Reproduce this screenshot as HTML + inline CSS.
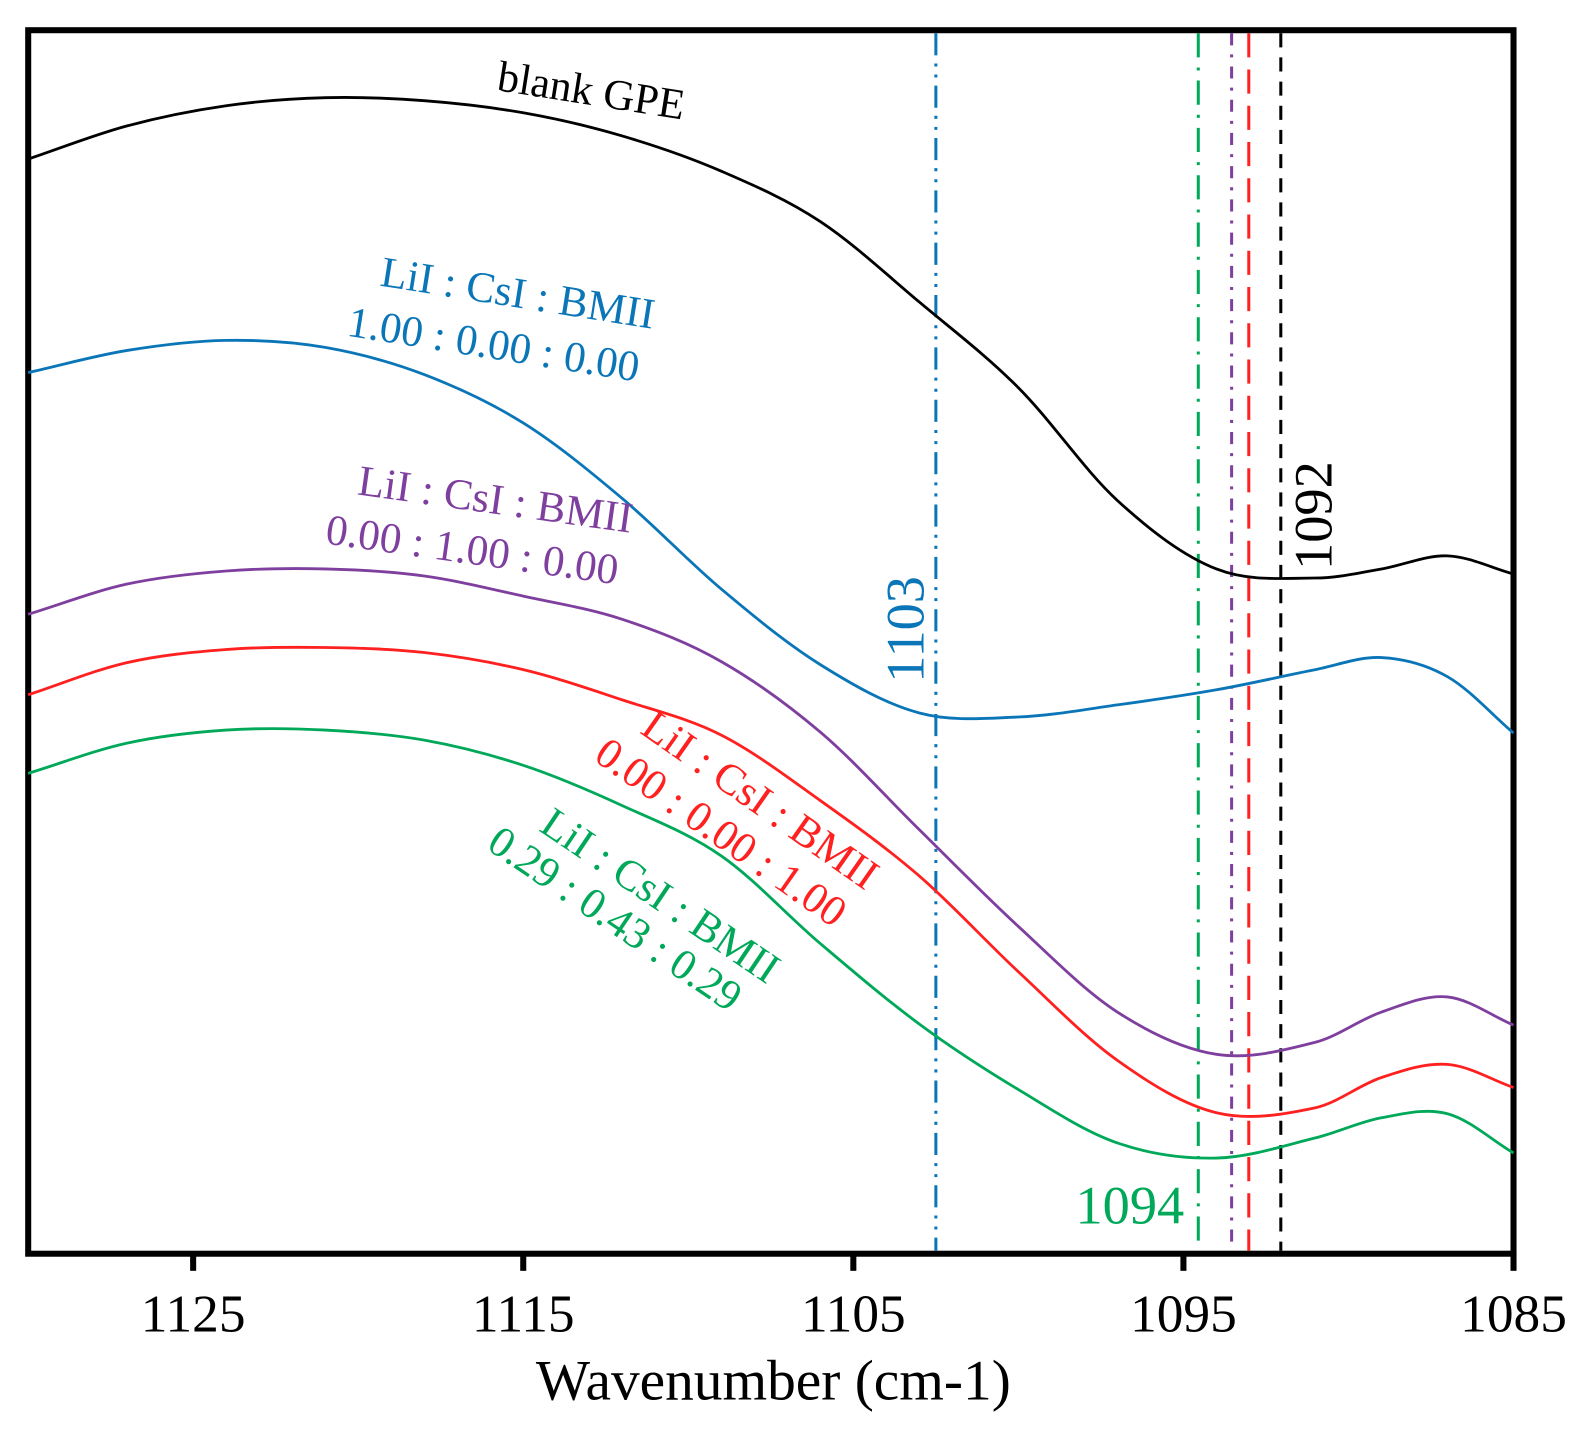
<!DOCTYPE html>
<html><head><meta charset="utf-8"><style>
html,body{margin:0;padding:0;background:#fff}
svg{display:block}
text{font-family:"Liberation Serif",serif}
</style></head><body>
<svg id="chart" width="1582" height="1441" viewBox="0 0 1582 1441" xmlns="http://www.w3.org/2000/svg">
<g id="root" transform="scale(1.007)">
<rect x="28" y="30" width="1475" height="1215" fill="none" stroke="#000" stroke-width="6"/>
<g id="marks"></g>
<g id="axis"></g>
<text x="768" y="1390" font-size="57" text-anchor="middle">Wavenumber (cm-1)</text>
<text transform="translate(585,104) rotate(9)" font-size="43" text-anchor="middle">blank GPE</text>
<g fill="#0a76b8" font-size="43" text-anchor="middle">
<text transform="translate(512,305) rotate(9)">LiI : CsI : BMII</text>
<text transform="translate(488,356) rotate(9)">1.00 : 0.00 : 0.00</text>
</g>
<g fill="#7e3f9e" font-size="43" text-anchor="middle">
<text transform="translate(490,510) rotate(8)">LiI : CsI : BMII</text>
<text transform="translate(467,560) rotate(8)">0.00 : 1.00 : 0.00</text>
</g>
<g fill="#ff2020" font-size="43" text-anchor="middle">
<text transform="translate(747,806) rotate(35)">LiI : CsI : BMII</text>
<text transform="translate(708,838) rotate(35)">0.00 : 0.00 : 1.00</text>
</g>
<g fill="#00a859" font-size="43" text-anchor="middle">
<text transform="translate(648,901) rotate(34)">LiI : CsI : BMII</text>
<text transform="translate(603,924) rotate(34)">0.29 : 0.43 : 0.29</text>
</g>
<text transform="translate(917,625) rotate(-90)" font-size="54" fill="#0a76b8" text-anchor="middle">1103</text>
<text transform="translate(1322,512) rotate(-90)" font-size="54" fill="#000" text-anchor="middle">1092</text>
<text x="1122" y="1215" font-size="54" fill="#00a859" text-anchor="middle">1094</text>
</g>
</svg>
<script>
const wavenumbers = [1130,1127,1124,1121,1118,1115,1112,1109,1106,1103,1100,1097,1094,1091,1089,1087,1085];
const blankGPE = [1087,1120,1140,1148,1145,1133,1110,1075,1025,945,860,748,680,671,680,693,675];
const liiOnly  = [875,897,907,900,873,825,750,660,585,537,533,545,560,580,592,573,517];
const csiOnly  = [635,665,678,680,673,653,630,588,518,421,325,240,198,210,240,255,227];
const bmiiOnly = [555,587,600,602,597,580,550,515,450,375,280,192,140,145,175,188,165];
const mixed    = [477,507,520,520,510,485,445,395,308,228,163,110,95,115,135,139,100];
const xTicks = [1125,1115,1105,1095,1085];
const peakLines = [1102.5,1094.55,1093.54,1093.02,1092.05];
const NS='http://www.w3.org/2000/svg';
function x(w){return 1503-(w-1085)*32.78;}
function y(v){return 1245-v;}
function smooth(pts){
  let d='M'+pts[0][0].toFixed(1)+','+pts[0][1].toFixed(1);
  for(let i=0;i<pts.length-1;i++){
    const p0=pts[Math.max(0,i-1)],p1=pts[i],p2=pts[i+1],p3=pts[Math.min(pts.length-1,i+2)];
    const d01=Math.max(1,p2[0]-p0[0]),d12=p2[0]-p1[0],d23=Math.max(1,p3[0]-p1[0]);
    const m1=(p2[1]-p0[1])/d01, m2=(p3[1]-p1[1])/d23;
    const c1x=p1[0]+d12/3,c1y=p1[1]+m1*d12/3;
    const c2x=p2[0]-d12/3,c2y=p2[1]-m2*d12/3;
    d+=' C'+c1x.toFixed(1)+','+c1y.toFixed(1)+' '+c2x.toFixed(1)+','+c2y.toFixed(1)+' '+p2[0].toFixed(1)+','+p2[1].toFixed(1);
  }
  return d;
}
const marks=document.getElementById('marks');
const lineColors=['#0a76b8','#00a859','#7e3f9e','#ff2020','#000'];
const lineDash=['22,8,3,8,3,8','24,10,3,10','12,9,3,9','24,12','14,10'];
const lineNames=['peak-line-1103','peak-line-1094','peak-line-csi','peak-line-bmii','peak-line-1092'];
peakLines.forEach((w,i)=>{
  const l=document.createElementNS(NS,'line');
  l.setAttribute('x1',x(w));l.setAttribute('x2',x(w));
  l.setAttribute('y1',33);l.setAttribute('y2',1242);
  l.setAttribute('stroke',lineColors[i]);l.setAttribute('stroke-width',3);
  l.setAttribute('stroke-dasharray',lineDash[i]);
  
  
  marks.appendChild(l);
});
const series=[blankGPE,liiOnly,csiOnly,bmiiOnly,mixed];
const sColors=['#000','#0a76b8','#7e3f9e','#ff2020','#00a859'];
const sNames=['curve-blank-gpe','curve-lii','curve-csi','curve-bmii','curve-mixed'];
series.forEach((s,i)=>{
  const p=document.createElementNS(NS,'path');
  p.setAttribute('d',smooth(wavenumbers.map((w,j)=>[x(w),y(s[j])])));
  p.setAttribute('fill','none');p.setAttribute('stroke',sColors[i]);p.setAttribute('stroke-width',2.8);
  
  
  marks.appendChild(p);
});
const axis=document.getElementById('axis');
xTicks.forEach(t=>{
  const l=document.createElementNS(NS,'line');
  l.setAttribute('x1',x(t));l.setAttribute('x2',x(t));l.setAttribute('y1',1245);l.setAttribute('y2',1262);
  l.setAttribute('stroke','#000');l.setAttribute('stroke-width',6);
  
  
  axis.appendChild(l);
  const tx=document.createElementNS(NS,'text');
  tx.setAttribute('x',x(t));tx.setAttribute('y',1322);tx.setAttribute('font-size',53);tx.setAttribute('text-anchor','middle');
  tx.textContent=t;
  
  
  axis.appendChild(tx);
});
</script>
</body></html>
